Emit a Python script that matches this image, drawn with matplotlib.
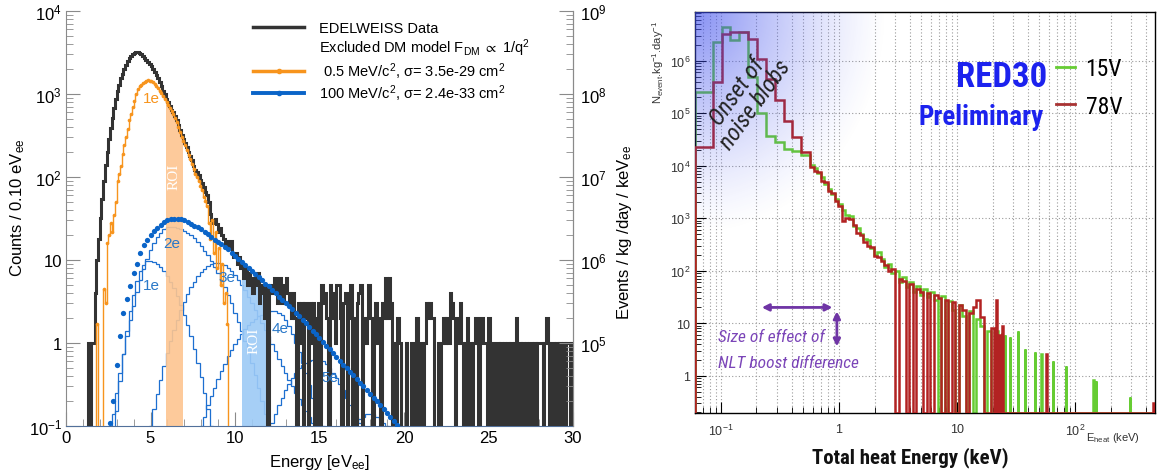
import numpy as np
import matplotlib
matplotlib.use("Agg")
import matplotlib.pyplot as plt
from matplotlib import font_manager
from matplotlib.lines import Line2D
from matplotlib.ticker import LogLocator, MultipleLocator, FixedLocator, FuncFormatter, NullFormatter

plt.rcParams['font.family'] = ['Liberation Sans', 'DejaVu Sans']
plt.rcParams['mathtext.fontset'] = 'custom'
plt.rcParams['mathtext.rm'] = 'Liberation Sans'
plt.rcParams['mathtext.it'] = 'Liberation Sans:italic'
plt.rcParams['mathtext.bf'] = 'Liberation Sans:bold'
plt.rcParams['mathtext.fallback'] = 'stixsans'

avail = {f.name for f in font_manager.fontManager.ttflist}
narrow = next((n for n in ['Liberation Sans Narrow', 'Roboto Condensed', 'Open Sans Condensed']
               if n in avail), 'DejaVu Sans')
nscale = 1.0 if narrow != 'DejaVu Sans' else 0.78

# ---------------- left panel data (EDELWEISS) ----------------
# counts per 0.1 eV bin, from 0 eV to 30 eV (one row per eV)
black_counts = [
    0, 0, 0, 0, 0, 0, 0, 0, 0, 0,
    0, 0, 0, 1, 0, 1, 1, 4, 10, 18,
    32, 55, 90, 140, 200, 290, 390, 520, 680, 880,
    1100, 1300, 1550, 1750, 2000, 2250, 2500, 2700, 2900, 3050,
    3150, 3250, 3200, 3100, 3000, 2900, 2750, 2600, 2450, 2300,
    2150, 2000, 1850, 1700, 1550, 1400, 1250, 1100, 1000, 880,
    800, 720, 650, 600, 540, 480, 420, 370, 320, 285,
    260, 230, 200, 180, 160, 135, 122, 115, 105, 92,
    84, 75, 66, 60, 50, 36, 30, 28, 31, 27,
    22, 24, 20, 18, 15, 17, 14, 17, 12, 11,
    12, 9, 11, 8, 9, 6, 8, 5, 7, 6,
    4, 6, 5, 7, 3, 5, 4, 2, 5, 0,
    4, 5, 4, 6, 5, 3, 6, 4, 3, 5,
    6, 4, 3, 2, 4, 2, 0, 3, 1, 3,
    0, 3, 2, 0, 3, 1, 3, 0, 2, 3,
    0, 5, 3, 4, 2, 0, 5, 4, 2, 1,
    5, 5, 2, 0, 3, 4, 0, 2, 5, 0,
    2, 0, 3, 4, 5, 0, 2, 1, 2, 5,
    2, 0, 2, 3, 1, 2, 0, 3, 2, 6,
    2, 6, 3, 0, 1, 0, 2, 1, 0, 0,
    0, 1, 0, 0, 1, 1, 0, 2, 0, 0,
    1, 0, 1, 3, 2, 3, 2, 2, 0, 0,
    1, 0, 1, 2, 1, 2, 1, 4, 3, 2,
    0, 1, 2, 3, 1, 0, 1, 2, 0, 1,
    0, 1, 2, 1, 0, 2, 2, 1, 1, 0,
    2, 0, 1, 0, 0, 1, 0, 1, 0, 1,
    0, 1, 0, 1, 0, 1, 2, 0, 1, 0,
    1, 0, 1, 0, 1, 1, 0, 1, 0, 1,
    1, 1, 0, 1, 2, 1, 0, 1, 1, 0,
    1, 0, 1, 0, 1, 0, 1, 1, 0, 1,
]

# 0.5 MeV/c2 model, per 0.1 eV bin starting at 1.0 eV
orange_start = 1.0
orange_counts = [
    0, 0, 0, 0, 0, 0, 0, 0, 1.7, 0,
    0, 0, 4.5, 3, 16, 20, 28, 22, 35, 50,
    90, 110, 135, 190, 240, 300, 380, 480, 580, 700,
    830, 1000, 1150, 1250, 1300, 1350, 1400, 1450, 1480, 1450,
    1420, 1380, 1320, 1250, 1180, 1100, 1020, 950, 880, 800,
    740, 680, 620, 570, 520, 460, 400, 350, 305, 270,
    240, 210, 185, 165, 145, 125, 110, 100, 90, 78,
    70, 58, 52, 45, 28, 18, 30, 12, 22, 8,
    14, 5, 9, 3, 4, 1.7, 0,
]

# 100 MeV/c2 model total, every 0.2 eV from 2.6 eV
total_start = 2.6
total_model = [
    0.11, 0.2, 0.55, 1.2, 2.3,
    3.4, 4.8, 7.0, 9.0, 12,
    15, 17.5, 20, 22.5, 24.5,
    26.5, 28.5, 30, 31, 31.5,
    31.5, 31, 30, 29, 27.5,
    26, 25, 23.5, 22, 20.5,
    19, 17.5, 16.5, 15.5, 14.5,
    13.5, 12.3, 11.2, 10.3, 9.5,
    8.7, 8.0, 7.3, 6.7, 6.2,
    5.7, 5.2, 4.8, 4.4, 4.0,
    3.6, 3.3, 3.05, 2.8, 2.55,
    2.3, 2.1, 1.9, 1.72, 1.55,
    1.4, 1.27, 1.15, 1.03, 0.93,
    0.84, 0.76, 0.68, 0.61, 0.55,
    0.5, 0.45, 0.41, 0.37, 0.33,
    0.3, 0.27, 0.24, 0.22, 0.2,
    0.18, 0.16, 0.145, 0.13, 0.115,
    0.103,
]

# n-electron components of the 100 MeV/c2 model, every 0.2 eV
comp_1e_start, comp_1e = 2.8, [
    0.06, 0.15, 0.35, 0.73, 1.4, 2.4, 3.8, 5.6, 7.3, 8.8,
    9.7, 9.8, 9.5, 9.0, 8.3, 7.4, 6.5, 5.5, 4.6, 3.7,
    2.9, 2.2, 1.65, 1.2, 0.84, 0.58, 0.39, 0.25, 0.16, 0.1]
comp_2e_start, comp_2e = 2.6, [
    0.07, 0.14, 0.25, 0.43, 0.73, 1.2, 1.9, 2.8, 4.1, 5.8,
    7.9, 10.4, 13.1, 16, 18.8, 21.3, 23.4, 24.7, 25, 24.8,
    24.4, 23.7, 22.6, 21.3, 19.8, 18.2, 16.5, 14.8, 13.0, 11.4,
    9.75, 8.3, 6.9, 5.7, 4.7, 3.8, 3.0, 2.3, 1.8, 1.4,
    1.05, 0.78, 0.57, 0.41, 0.29, 0.2, 0.14, 0.1]
comp_3e_start, comp_3e = 4.8, [
    0.06, 0.1, 0.16, 0.24, 0.36, 0.53, 0.75, 1.05, 1.43, 1.9,
    2.5, 3.1, 3.9, 4.7, 5.5, 6.4, 7.2, 7.9, 8.5, 8.9,
    9.1, 9.2, 9.0, 8.6, 8.0, 7.3, 6.6, 5.8, 5.0, 4.3,
    3.6, 3.0, 2.5, 2.1, 1.75, 1.45, 1.2, 0.98, 0.8, 0.65,
    0.53, 0.44, 0.36, 0.3, 0.25, 0.21, 0.18, 0.15, 0.13, 0.11, 0.1]
comp_4e_start, comp_4e = 8.0, [
    0.1, 0.13, 0.18, 0.23, 0.29, 0.37, 0.46, 0.56, 0.69, 0.82,
    0.97, 1.12, 1.3, 1.46, 1.63, 1.8, 1.95, 2.1, 2.2, 2.3,
    2.35, 2.4, 2.4, 2.3, 2.15, 1.9, 1.6, 1.3, 1.0, 0.78,
    0.58, 0.43, 0.31, 0.22, 0.16, 0.12, 0.1]
comp_5e_start, comp_5e = 12.0, [
    0.09, 0.11, 0.14, 0.18, 0.22, 0.27, 0.32, 0.38, 0.44, 0.5,
    0.54, 0.58, 0.6, 0.62, 0.62, 0.62, 0.6, 0.56, 0.5, 0.44,
    0.38, 0.32, 0.27, 0.22, 0.18, 0.15, 0.13, 0.11, 0.1, 0.09]
comp_6e_start, comp_6e = 17.0, [
    0.09, 0.11, 0.12, 0.13, 0.14, 0.14, 0.14, 0.13, 0.12, 0.11, 0.1, 0.09]

# ---------------- right panel data (RED30) ----------------
green_low = [2.5e5, 2.5e5, 2.3e6, 4.4e6, 2.5e6, 3.5e6, 5e5, 1e5, 3.7e4, 2.8e4, 2.1e4, 1.9e4, 1.6e4]
red_low = [2.3e4, 2.3e4, 4e5, 3.3e6, 3.5e6, 3.6e6, 2.6e6, 1.1e6, 4.5e5, 1.8e5, 7e4, 3.5e4, 1.8e4]
green_mid = [
    10500, 8900, 7200, 6000, 4400, 3600, 2900, 2300, 1900, 1450,
    1150, 1100, 700, 650, 500, 400, 380, 270, 200, 230,
    165, 120, 135, 90, 100, 60, 75, 50, 62, 40,
    52, 35, 45, 32, 40, 28, 0, 33, 0, 27,
    18, 0, 22, 14, 0, 17, 0, 12, 9, 0,
    7, 0]
red_mid = [
    9500, 8000, 7500, 5200, 4800, 3300, 3000, 2100, 1700, 900,
    1000, 950, 750, 520, 480, 360, 300, 280, 190, 180,
    150, 130, 100, 110, 0, 70, 65, 0, 55, 0,
    45, 40, 0, 38, 0, 35, 30, 0, 28, 0,
    25, 0, 22, 18, 0, 16, 20, 28, 13, 0,
    0, 8]
green_spike_E = [22, 24, 25.5, 28, 33, 38, 46, 52, 65, 84, 143, 150, 293]
green_spike_v = [7, 6.5, 6, 5.5, 7, 3.3, 2.8, 2.6, 1.9, 1.55, 0.84, 0.8, 0.4]
red_spike_E = [21.5, 23, 24.5, 57, 460]
red_spike_v = [28, 6, 9, 2.6, 0.3]

# ---------------- colours ----------------
c_data = '#333333'
c_orange = '#f7941d'
c_blue = '#0a64c8'
c_blue_thin = '#1d6fd0'
c_roi_o = '#fdc590'
c_roi_b = '#9ccaf6'
c_green = '#66cc33'
c_red = '#b22222'
c_purple = '#6f35a5'

fig = plt.figure(figsize=(11.58, 4.77), dpi=100)

# =============== left panel ===============
ax1 = fig.add_axes([0.0570, 0.1048, 0.4378, 0.8700])
floor = 0.01

def clean(v, fl):
    v = np.asarray(v, dtype=float)
    return np.where(v > 0, v, fl)

edges_b = np.round(0.1 * np.arange(len(black_counts) + 1), 3)
black = clean(black_counts, floor)

def roi(lo, hi, color):
    i0, i1 = int(round(lo / 0.1)), int(round(hi / 0.1))
    ax1.stairs(black[i0:i1], edges_b[i0:i1 + 1], baseline=floor, fill=True,
               color=color, alpha=0.9, lw=0, zorder=2.5)

roi(5.9, 6.9, c_roi_o)
roi(10.4, 12.0, c_roi_b)

for start, vals in [(comp_1e_start, comp_1e), (comp_2e_start, comp_2e), (comp_3e_start, comp_3e),
                    (comp_4e_start, comp_4e), (comp_5e_start, comp_5e), (comp_6e_start, comp_6e)]:
    e = start - 0.1 + 0.2 * np.arange(len(vals) + 1)
    ax1.stairs(vals, e, baseline=floor, color=c_blue_thin, lw=0.9, zorder=2)

ax1.stairs(black, edges_b, baseline=floor, color=c_data, lw=2.2, zorder=3)

o_edges = orange_start + 0.1 * np.arange(len(orange_counts) + 1)
o_vals = clean(orange_counts, floor)
ax1.stairs(o_vals, o_edges, baseline=floor, color=c_orange, lw=1.0, zorder=4)
o_cent = 0.5 * (o_edges[1:] + o_edges[:-1])
mask = np.asarray(orange_counts) > 0
ax1.plot(o_cent[mask], o_vals[mask], 'o', ms=2.6, color=c_orange, mec='none', zorder=4)

t_E = total_start + 0.2 * np.arange(len(total_model))
ax1.plot(t_E, total_model, 'o', ms=3.8, color=c_blue, mec='none', zorder=5)

ax1.set_yscale('log')
ax1.set_xlim(0, 30)
ax1.set_ylim(0.1, 1e4)

def logfmt(v, pos):
    e = int(round(np.log10(v)))
    if e == 0:
        return '1'
    if e == 1:
        return '10'
    return r'$10^{%d}$' % e

ax1.xaxis.set_major_locator(FixedLocator([0, 5, 10, 15, 20, 25, 30]))
ax1.xaxis.set_minor_locator(MultipleLocator(1))
ax1.yaxis.set_major_locator(LogLocator(base=10, numticks=10))
ax1.yaxis.set_minor_locator(LogLocator(base=10, subs=np.arange(2, 10), numticks=20))
ax1.yaxis.set_major_formatter(FuncFormatter(logfmt))
ax1.yaxis.set_minor_formatter(NullFormatter())
ax1.tick_params(which='both', direction='in', color='#8a8a8a', labelsize=12, top=False, right=False)
ax1.tick_params(which='major', length=10)
ax1.tick_params(which='minor', length=5)
ax1.tick_params(axis='x', pad=3)
ax1.tick_params(axis='y', pad=3)
ax1.spines['top'].set_visible(False)
for s in ['left', 'right']:
    ax1.spines[s].set_color('#8a8a8a')
ax1.spines['bottom'].set_color('#52709a')

ax1r = ax1.twinx()
ax1r.set_yscale('log')
ax1r.set_ylim(1e4, 1e9)
ax1r.yaxis.set_major_locator(FixedLocator([1e5, 1e6, 1e7, 1e8, 1e9]))
ax1r.yaxis.set_minor_locator(LogLocator(base=10, subs=np.arange(2, 10), numticks=20))
ax1r.yaxis.set_major_formatter(FuncFormatter(logfmt))
ax1r.yaxis.set_minor_formatter(NullFormatter())
ax1r.tick_params(which='both', direction='in', color='#8a8a8a', labelsize=12, pad=5)
ax1r.tick_params(which='major', length=10)
ax1r.tick_params(which='minor', length=5)
ax1r.spines['top'].set_visible(False)
ax1r.spines['right'].set_color('#8a8a8a')
ax1r.spines['left'].set_visible(False)
ax1r.spines['bottom'].set_visible(False)

# labels on the model curves
ax1.text(5.07, 890, '1e', color=c_orange, fontsize=11, ha='center', va='center', zorder=6)
for x, y, s in [(6.25, 15.9, '2e'), (5.07, 5.0, '1e'), (9.5, 6.2, '3e'), (12.66, 1.5, '4e'), (15.6, 0.39, '5e')]:
    ax1.text(x, y, s, color='#2a78c8', fontsize=11, ha='center', va='center', zorder=6)
ax1.text(6.4, 104, 'ROI', color='white', fontsize=11, rotation=90, ha='center', va='center',
         family=['Liberation Serif', 'DejaVu Serif'], zorder=6)
ax1.text(11.15, 1.1, 'ROI', color='white', fontsize=11, rotation=90, ha='center', va='center',
         family=['Liberation Serif', 'DejaVu Serif'], zorder=6)

handles = [Line2D([], [], color=c_data, lw=2.5),
           Line2D([], [], color='none'),
           Line2D([], [], color=c_orange, lw=2.5, marker='o', ms=3),
           Line2D([], [], color=c_blue, lw=2.8, marker='o', ms=3)]
labels = ['EDELWEISS Data',
          r'Excluded DM model F$_{\mathrm{DM}}$ $\propto$ 1/q$^2$',
          ' 0.5 MeV/c$^2$, \u03c3= 3.5e-29 cm$^2$',
          '100 MeV/c$^2$, \u03c3= 2.4e-33 cm$^2$']
ax1.legend(handles, labels, loc='upper left', bbox_to_anchor=(0.369, 0.976), frameon=False,
           fontsize=10.5, handlelength=3.5, handletextpad=1.0, labelspacing=0.12,
           borderpad=0, borderaxespad=0, numpoints=1)

fig.text(18 / 1158, 0.564, r'Counts / 0.10 eV$_{\mathrm{ee}}$', rotation=90, ha='center', va='center',
         fontsize=12)
fig.text(0.5389, 0.5136, r'Events / kg /day / keV$_{\mathrm{ee}}$', rotation=90, ha='center',
         va='center', fontsize=12)
fig.text(0.2763, 0.030, r'Energy [eV$_{\mathrm{ee}}$]', ha='center', va='center', fontsize=12)

# =============== right panel ===============
pos2 = [0.6002, 0.1321, 0.3972, 0.8407]
ax2 = fig.add_axes(pos2)
rfloor = 0.195

edges_lo = 10 ** (-1.22 + 0.075 * np.arange(14))
edges_mid = 10 ** (-0.245 + 0.03 * np.arange(1, 53))
edges_hi = 10 ** (1.315 + 0.005 * np.arange(1, 274))
edges_all = np.concatenate([edges_lo, edges_mid, edges_hi])

def sparse(E, v):
    vals = np.full(len(edges_hi), rfloor)
    full_edges = np.concatenate([[edges_mid[-1]], edges_hi])
    idx = np.searchsorted(full_edges, E) - 1
    vals[idx] = v
    return vals

green_all = np.concatenate([clean(green_low, rfloor), clean(green_mid, rfloor),
                            sparse(green_spike_E, green_spike_v)])
red_all = np.concatenate([clean(red_low, rfloor), clean(red_mid, rfloor),
                          sparse(red_spike_E, red_spike_v)])

ax2.stairs(green_all, edges_all, baseline=rfloor, color=c_green, lw=1.8, zorder=2)
ax2.stairs(red_all, edges_all, baseline=rfloor, color=c_red, lw=1.8, zorder=3)

ax2.set_xscale('log')
ax2.set_yscale('log')
ax2.set_xlim(0.0603, 476)
ax2.set_ylim(rfloor, 8.5e6)
ax2.set_axisbelow(True)
ax2.xaxis.set_major_locator(FixedLocator([0.1, 1, 10, 100]))
ax2.xaxis.set_minor_locator(LogLocator(base=10, subs=np.arange(2, 10), numticks=20))
ax2.xaxis.set_major_formatter(FuncFormatter(logfmt))
ax2.xaxis.set_minor_formatter(NullFormatter())
ax2.yaxis.set_major_locator(FixedLocator([1, 10, 1e2, 1e3, 1e4, 1e5, 1e6]))
ax2.yaxis.set_minor_locator(LogLocator(base=10, subs=np.arange(2, 10), numticks=20))
ax2.yaxis.set_major_formatter(FuncFormatter(logfmt))
ax2.yaxis.set_minor_formatter(NullFormatter())
ax2.grid(which='major', axis='both', ls=(0, (1, 2)), color='#9a9a9a', lw=0.8)
ax2.grid(which='minor', axis='x', ls=(0, (1, 2)), color='#9a9a9a', lw=0.8)
ax2.tick_params(which='both', direction='in', labelsize=9, labelcolor='#333333')
ax2.tick_params(which='major', length=8)
ax2.tick_params(which='minor', length=4)
ax2.tick_params(axis='x', pad=7)
for s in ax2.spines.values():
    s.set_linewidth(1.0)

ax2.annotate('', xy=(0.93, 20), xytext=(0.21, 20),
             arrowprops=dict(arrowstyle='<|-|>', color=c_purple, lw=2, mutation_scale=10))
ax2.annotate('', xy=(0.96, 3.2), xytext=(0.96, 19),
             arrowprops=dict(arrowstyle='<|-|>', color=c_purple, lw=2, mutation_scale=10))
ax2.text(0.094, 5.5, 'Size of effect of', color='#7b45b8', fontsize=12.5 * nscale, style='italic',
         family=narrow, ha='left', va='center')
ax2.text(0.094, 1.8, 'NLT boost difference', color='#7b45b8', fontsize=12.5 * nscale, style='italic',
         family=narrow, ha='left', va='center')

ax2.legend([Line2D([], [], color=c_green, lw=2), Line2D([], [], color='#a83232', lw=2)],
           ['15V', '78V'], loc='upper left', bbox_to_anchor=(0.785, 0.888), frameon=False,
           prop=dict(family=narrow, size=17 * nscale), handlelength=0.8, handletextpad=0.45,
           labelspacing=0.62, borderpad=0, borderaxespad=0)

# blue shading in the upper left corner
axg = fig.add_axes(pos2, zorder=ax2.get_zorder() + 1)
ny, nx = 200, 200
xa = np.linspace(0, 1, nx)[None, :]
ya = np.linspace(1, 0, ny)[:, None]
r = np.sqrt((xa / 0.42) ** 2 + ((1 - ya) / 0.56) ** 2)
alpha = 0.62 * np.clip(1 - r, 0, 1) ** 1.3
img = np.zeros((ny, nx, 4))
img[..., 0], img[..., 1], img[..., 2], img[..., 3] = 0.25, 0.31, 0.93, alpha
axg.imshow(img, extent=[0, 1, 0, 1], aspect='auto', interpolation='bilinear')
axg.set_xlim(0, 1)
axg.set_ylim(0, 1)
axg.axis('off')
axg.text(0.111, 0.786, 'Onset of\nnoise blobs', rotation=54, ha='center', va='center',
         multialignment='center', fontsize=17 * nscale, style='italic', color='#222222',
         family=narrow, linespacing=0.95)
axg.text(0.667, 0.84, 'RED30', ha='center', va='center', fontsize=25 * nscale, weight='bold',
         color='#1c22ee', family=narrow)
axg.text(0.622, 0.74, 'Preliminary', ha='center', va='center', fontsize=19.5 * nscale, weight='bold',
         color='#1c22ee', family=narrow)

fig.text(0.5682, 0.870, r'N$_{\mathrm{event}}$.kg$^{-1}$.day$^{-1}$', rotation=90, ha='center',
         va='center', fontsize=8, color='#333333')
fig.text(0.7858, 0.040, 'Total heat Energy (keV)', ha='center', va='center', fontsize=15 * nscale,
         weight='bold', family=narrow, color='#111111')
fig.text(0.961, 0.082, r'E$_{\mathrm{heat}}$ (keV)', ha='center', va='center', fontsize=8,
         color='#333333')

fig.savefig('out.png', dpi=100)
